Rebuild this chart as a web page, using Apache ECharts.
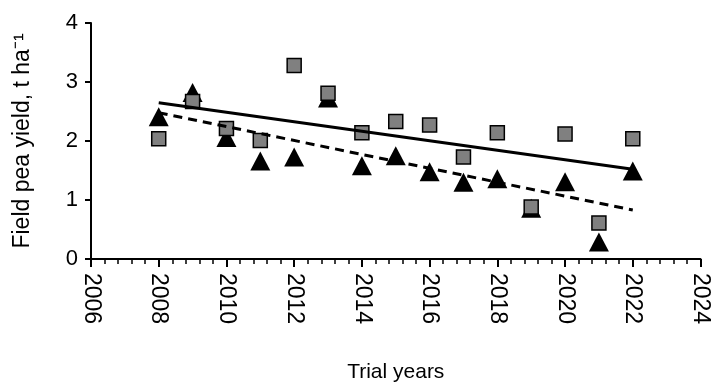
<!DOCTYPE html>
<html>
<head>
<meta charset="utf-8">
<script src="https://cdn.jsdelivr.net/npm/echarts@6/dist/echarts.min.js"></script>
<style>
  html, body { margin: 0; padding: 0; background: #fff; }
  #chart { width: 712px; height: 388px; }
</style>
</head>
<body>
<div id="chart"></div>
<script>
// 年份与两组产量（t/ha）
var years = [2008, 2009, 2010, 2011, 2012, 2013, 2014, 2015, 2016, 2017, 2018, 2019, 2020, 2021, 2022];
var squareYield = [2.04, 2.67, 2.21, 2.01, 3.28, 2.81, 2.14, 2.33, 2.27, 1.73, 2.14, 0.88, 2.12, 0.61, 2.04];
var triangleYield = [2.41, 2.82, 2.06, 1.66, 1.73, 2.73, 1.58, 1.75, 1.48, 1.30, 1.36, 0.86, 1.31, 0.29, 1.49];
// 趋势线端点
var trendYears = [2008, 2022];
var squareTrend = [2.65, 1.52];
var triangleTrend = [2.48, 0.83];
// 坐标轴刻度
var xTicks = [2006, 2024, 2];
var yTicks = [0, 4, 1];

function pairs(xs, ys) {
    return xs.map(function(x, i) { return [x, ys[i]]; });
}

var font = '"Liberation Sans", Arial, sans-serif';

var option = {
    animation: false,
    grid: { left: 91, right: 8, top: 23, bottom: 128 },
    xAxis: {
        type: 'value',
        min: xTicks[0],
        max: xTicks[1],
        interval: xTicks[2],
        name: 'Trial years',
        nameLocation: 'middle',
        nameGap: 103,
        nameTextStyle: { fontFamily: font, fontSize: 21, color: '#000' },
        axisLine: { show: true, lineStyle: { color: '#000', width: 2 } },
        axisTick: { show: true, length: 8, lineStyle: { color: '#000', width: 2 } },
        minorTick: { show: true, splitNumber: 5, length: 5, lineStyle: { color: '#000', width: 1.5 } },
        splitLine: { show: false },
        axisLabel: {
            rotate: -90, margin: 14, fontFamily: font, fontSize: 23, color: '#000',
            formatter: function(v) { return String(v); }
        }
    },
    yAxis: {
        type: 'value',
        min: yTicks[0],
        max: yTicks[1],
        interval: yTicks[2],
        name: 'Field pea yield, t ha⁻¹',
        nameLocation: 'middle',
        nameGap: 57,
        nameTextStyle: { fontFamily: font, fontSize: 23, color: '#000' },
        axisLine: { show: true, lineStyle: { color: '#000', width: 2 } },
        axisTick: { show: true, length: 6, lineStyle: { color: '#000', width: 2 } },
        splitLine: { show: false },
        axisLabel: { margin: 13, fontFamily: font, fontSize: 22, color: '#000' }
    },
    series: [{
        type: 'scatter',
        symbol: 'triangle',
        symbolSize: [20, 19],
        itemStyle: { color: '#000', opacity: 1 },
        data: pairs(years, triangleYield),
        z: 2
    }, {
        type: 'scatter',
        symbol: 'rect',
        symbolSize: 14,
        itemStyle: { color: '#808080', borderColor: '#000', borderWidth: 1.5, opacity: 1 },
        data: pairs(years, squareYield),
        z: 3
    }, {
        type: 'line',
        symbol: 'none',
        lineStyle: { color: '#000', width: 3, type: 'solid' },
        data: pairs(trendYears, squareTrend),
        z: 4
    }, {
        type: 'line',
        symbol: 'none',
        lineStyle: { color: '#000', width: 3, type: [9, 6] },
        data: pairs(trendYears, triangleTrend),
        z: 4
    }]
};

var myChart = echarts.init(document.getElementById('chart'));
myChart.setOption(option);
</script>
</body>
</html>
